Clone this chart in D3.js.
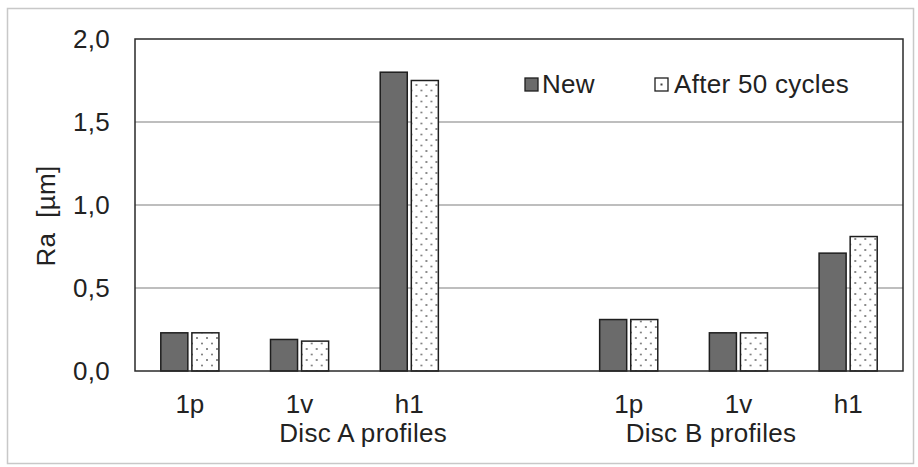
<!DOCTYPE html>
<html>
<head>
<meta charset="utf-8">
<script src="https://cdn.jsdelivr.net/npm/d3@7"></script>
<style>
  html, body { margin: 0; padding: 0; background: #fff; }
  svg text { font-family: "Liberation Sans", Arial, sans-serif; fill: #222; }
</style>
</head>
<body>
<svg id="chart" width="918" height="467"></svg>
<script>
// Surface roughness Ra per profile, before and after 50 cycles
const discs = ["Disc A profiles", "Disc B profiles"];
const profiles = ["1p", "1v", "h1"];
const seriesNames = ["New", "After 50 cycles"];
const newA = [0.23, 0.19, 1.80];
const afterA = [0.23, 0.18, 1.75];
const newB = [0.31, 0.23, 0.71];
const afterB = [0.31, 0.23, 0.81];
const yTicks = [0, 0.5, 1.0, 1.5, 2.0];

const svg = d3.select("#chart");
const W = 918, H = 467;
const m = { left: 135, right: 15, top: 39, bottom: 96 };
const innerW = W - m.left - m.right;
const innerH = H - m.top - m.bottom;
const FS = 26;
const LS = 0.3;

// dotted fill for the "after" series
const defs = svg.append("defs");
const pat = defs.append("pattern").attr("id", "dots")
  .attr("patternUnits", "userSpaceOnUse").attr("width", 10).attr("height", 11);
pat.append("rect").attr("width", 10).attr("height", 11).attr("fill", "#fff");
pat.append("circle").attr("cx", 2).attr("cy", 2).attr("r", 1).attr("fill", "#666");
pat.append("circle").attr("cx", 7).attr("cy", 7.5).attr("r", 1).attr("fill", "#777");

// outer frame
svg.append("rect").attr("x", 7.5).attr("y", 8.5).attr("width", W - 12).attr("height", H - 12)
  .attr("fill", "none").attr("stroke", "#c8c8c8").attr("stroke-width", 1.5);

// slots: three profiles per disc, one empty slot between discs
const slots = [];
discs.forEach((d, di) => {
  profiles.forEach((p, pi) => slots.push({ disc: di, profile: p, key: di + "-" + p,
    values: di === 0 ? [newA[pi], afterA[pi]] : [newB[pi], afterB[pi]] }));
  if (di === 0) slots.push({ key: "spacer", values: null });
});

const x = d3.scaleBand().domain(slots.map(s => s.key)).range([0, innerW]).padding(0);
const xs = d3.scaleBand().domain(seriesNames).range([0, x.bandwidth()]).paddingInner(0.13).paddingOuter(0.83);
const y = d3.scaleLinear().domain([0, 2]).range([innerH, 0]);

const g = svg.append("g").attr("transform", `translate(${m.left},${m.top})`);

// gridlines
g.append("g").selectAll("line").data(yTicks.filter(t => t > 0 && t < 2)).join("line")
  .attr("x1", 0).attr("x2", innerW)
  .attr("y1", d => y(d)).attr("y2", d => y(d))
  .attr("stroke", "#a8a8a8").attr("stroke-width", 1.5);

// y axis labels
const fmt = d => d3.format(".1f")(d).replace(".", ",");
const yAxis = g.append("g").call(d3.axisLeft(y).tickValues(yTicks).tickFormat(fmt).tickSize(0).tickPadding(25));
yAxis.select(".domain").remove();
yAxis.selectAll("text").attr("font-size", FS).attr("letter-spacing", LS).attr("fill", "#222")
  .style("font-family", "Liberation Sans, Arial, sans-serif");

// bars
const bars = slots.filter(s => s.values);
const bg = g.selectAll("g.slot").data(bars).join("g").attr("class", "slot")
  .attr("transform", d => `translate(${x(d.key)},0)`);
bg.selectAll("rect").data(d => d.values.map((v, i) => ({ v, s: seriesNames[i] }))).join("rect")
  .attr("x", d => xs(d.s)).attr("width", xs.bandwidth())
  .attr("y", d => y(d.v)).attr("height", d => innerH - y(d.v))
  .attr("fill", d => d.s === "New" ? "#6b6b6b" : "url(#dots)")
  .attr("stroke", "#1e1e1e").attr("stroke-width", 1.5);

// plot border
g.append("rect").attr("x", 0).attr("y", 0).attr("width", innerW).attr("height", innerH)
  .attr("fill", "none").attr("stroke", "#2a2a2a").attr("stroke-width", 1.5);

// category labels
const xAxis = g.append("g").attr("transform", `translate(0,${innerH})`)
  .call(d3.axisBottom(x).tickSize(0).tickPadding(24)
    .tickFormat(k => { const s = slots.find(q => q.key === k); return s.profile || ""; }));
xAxis.select(".domain").remove();
xAxis.selectAll("text").attr("font-size", FS).attr("fill", "#222")
  .style("font-family", "Liberation Sans, Arial, sans-serif");

// disc group labels, placed as text boxes relative to the middle profile slot
const groupShift = [1.08, 0.25];
discs.forEach((d, di) => {
  g.append("text").attr("x", x(di + "-" + profiles[1]) + x.bandwidth() * groupShift[di])
    .attr("y", innerH + 71).attr("text-anchor", "middle").attr("font-size", FS)
    .attr("letter-spacing", LS).text(d);
});

// y title
g.append("text").attr("transform", `translate(${55 - m.left},${216 - m.top}) rotate(-90)`)
  .attr("text-anchor", "middle").attr("font-size", FS).attr("letter-spacing", LS)
  .attr("xml:space", "preserve").text("Ra  [µm]");

// legend
const leg = g.append("g").attr("transform", `translate(${525 - m.left},${78 - m.top})`);
const items = [
  { name: seriesNames[0], dx: 0, tx: 17, fill: "#6b6b6b" },
  { name: seriesNames[1], dx: 130, tx: 19, fill: "url(#dots)" }
];
items.forEach(it => {
  leg.append("rect").attr("x", it.dx).attr("y", 0).attr("width", 13).attr("height", 13)
    .attr("fill", it.fill === "url(#dots)" ? "#fff" : it.fill).attr("stroke", "#1e1e1e").attr("stroke-width", 1.3);
  if (it.fill === "url(#dots)") leg.append("rect").attr("x", it.dx + 5.5).attr("y", 5.5).attr("width", 2).attr("height", 2).attr("fill", "#444");
  leg.append("text").attr("x", it.dx + it.tx).attr("y", 15).attr("font-size", FS)
    .attr("letter-spacing", LS).text(it.name);
});
</script>
</body>
</html>
